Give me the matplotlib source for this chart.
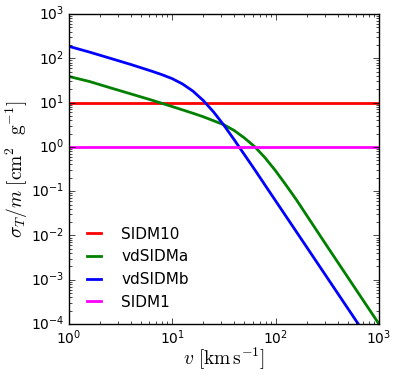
import matplotlib
matplotlib.use('Agg')
import matplotlib.pyplot as plt

plt.style.use('classic')

# values (v in km/s, sigma/m in cm^2/g)
v_const = [1.0, 1000.0]
sidm10 = [10.0, 10.0]
sidm1 = [1.0, 1.0]

v_a = [1.0, 1.585, 2.512, 3.981, 6.310, 10.0, 15.85, 19.95, 25.12, 31.62,
       39.81, 50.12, 63.10, 79.43, 100.0, 125.9, 158.5, 316.2, 1000.0]
sig_a = [38.9, 29.9, 21.6, 15.7, 11.4, 8.13, 5.75, 4.79, 3.89, 3.16,
         2.34, 1.58, 1.0, 0.562, 0.288, 0.138, 0.0646, 5.62e-3, 1.0e-4]

v_b = [1.0, 1.585, 2.512, 3.981, 6.310, 7.943, 10.0, 12.59, 15.85, 19.95,
       25.12, 31.62, 39.81, 44.67, 50.12, 63.10, 79.43, 199.5, 631.0]
sig_b = [186.0, 138.0, 100.0, 72.4, 51.3, 42.7, 34.7, 26.3, 18.2, 11.2,
         6.17, 3.09, 1.45, 0.977, 0.661, 0.302, 0.135, 5.5e-3, 1.0e-4]

fig = plt.figure(figsize=(3.99, 3.76), dpi=100)
fig.patch.set_facecolor('white')
ax = fig.add_axes([0.172, 0.138, 0.778, 0.825])

ax.plot(v_const, sidm10, color='red', lw=2, label='SIDM10')
ax.plot(v_a, sig_a, color='green', lw=2, label='vdSIDMa')
ax.plot(v_b, sig_b, color='blue', lw=2, label='vdSIDMb')
ax.plot(v_const, sidm1, color='magenta', lw=2, label='SIDM1')

ax.set_xscale('log')
ax.set_yscale('log')
ax.set_xlim(1, 1000)
ax.set_ylim(1e-4, 1e3)
ax.tick_params(labelsize=10, pad=3)

ax.set_xlabel(r'$v\ [\mathrm{km\,s^{-1}}]$', fontsize=14)
ax.set_ylabel(r'$\sigma_T/m\ [\mathrm{cm^2\ \ g^{-1}}]$', fontsize=14)
ax.xaxis.set_label_coords(0.5, -0.07)
ax.yaxis.set_label_coords(-0.125, 0.5)

ax.legend(loc='lower left', bbox_to_anchor=(0.0, 0.002), frameon=False,
          fontsize=11, handlelength=1.5, handletextpad=1.05, labelspacing=0.5)

fig.savefig('out.png', dpi=100, facecolor='white')
